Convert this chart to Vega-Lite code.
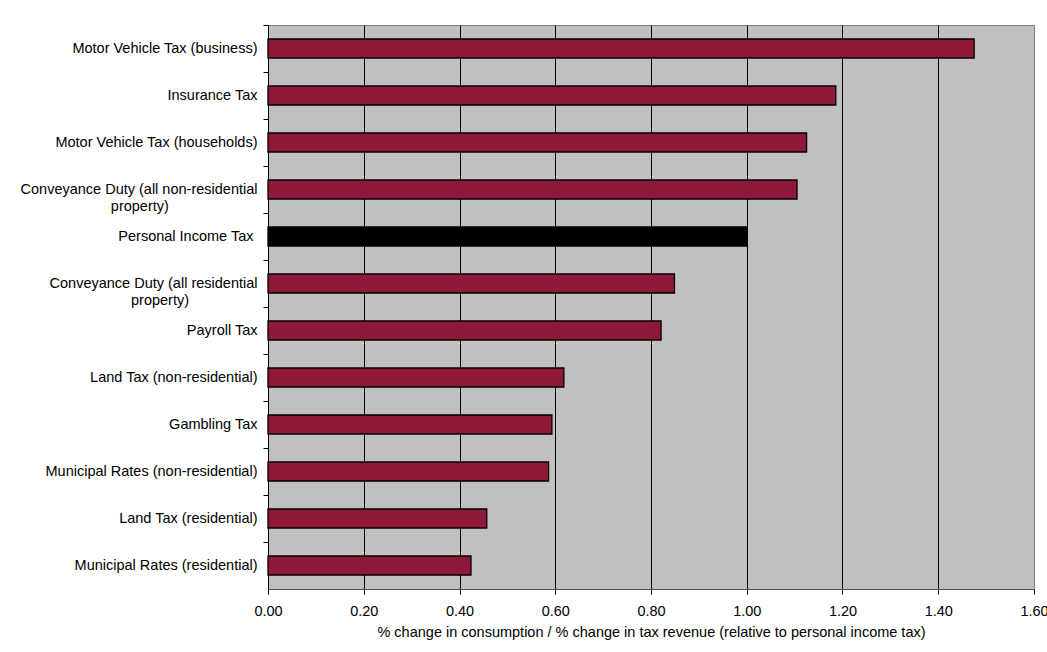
{
  "$schema": "https://vega.github.io/schema/vega-lite/v6.json",
  "width": 766,
  "height": 564,
  "autosize": {"type": "none"},
  "padding": {"left": 268, "top": 25, "right": 13, "bottom": 63},
  "background": "white",
  "config": {
    "font": "Liberation Sans",
    "view": {"fill": "#c0c0c0", "stroke": "#808080", "strokeWidth": 1}
  },
  "data": {
    "values": [
      {"tax": "Motor Vehicle Tax (business)", "value": 1.475, "kind": "tax"},
      {"tax": "Insurance Tax", "value": 1.186, "kind": "tax"},
      {"tax": "Motor Vehicle Tax (households)", "value": 1.125, "kind": "tax"},
      {"tax": "Conveyance Duty (all non-residential|property)", "value": 1.105, "kind": "tax"},
      {"tax": "Personal Income Tax ", "value": 1.0, "kind": "benchmark"},
      {"tax": "Conveyance Duty (all residential|property)", "value": 0.849, "kind": "tax"},
      {"tax": "Payroll Tax", "value": 0.821, "kind": "tax"},
      {"tax": "Land Tax (non-residential)", "value": 0.618, "kind": "tax"},
      {"tax": "Gambling Tax", "value": 0.593, "kind": "tax"},
      {"tax": "Municipal Rates (non-residential)", "value": 0.586, "kind": "tax"},
      {"tax": "Land Tax (residential)", "value": 0.457, "kind": "tax"},
      {"tax": "Municipal Rates (residential)", "value": 0.424, "kind": "tax"}
    ]
  },
  "mark": {"type": "bar", "size": 19, "stroke": "black", "strokeWidth": 1.3},
  "encoding": {
    "y": {
      "field": "tax",
      "type": "nominal",
      "sort": null,
      "scale": {"paddingInner": 0, "paddingOuter": 0},
      "axis": {
        "title": null,
        "bandPosition": 0,
        "tickSize": 5,
        "tickColor": "black",
        "domainColor": "black",
        "labelFontSize": 14.5,
        "labelColor": "black",
        "labelPadding": 6,
        "labelLineHeight": 17,
        "labelLimit": 400,
        "labelExpr": "indexof(datum.value, '|') >= 0 ? [split(datum.value, '|')[0], split(datum.value, '|')[1] + (indexof(datum.value, 'non-res') >= 0 ? '\\u00a0\\u00a0\\u00a0\\u00a0\\u00a0\\u00a0\\u00a0\\u00a0\\u00a0\\u00a0\\u00a0\\u00a0\\u00a0\\u00a0\\u00a0\\u00a0\\u00a0\\u00a0\\u00a0\\u00a0\\u00a0\\u00a0\\u200b' : '\\u00a0\\u00a0\\u00a0\\u00a0\\u00a0\\u00a0\\u00a0\\u00a0\\u00a0\\u00a0\\u00a0\\u00a0\\u00a0\\u00a0\\u00a0\\u00a0\\u00a0\\u200b')] : replace(datum.value, / $/, '\\u00a0\\u200b')"
      }
    },
    "x": {
      "field": "value",
      "type": "quantitative",
      "scale": {"domain": [0, 1.6], "nice": false},
      "axis": {
        "values": [0, 0.2, 0.4, 0.6, 0.8, 1.0, 1.2, 1.4, 1.6],
        "format": ".2f",
        "grid": true,
        "gridColor": {"condition": {"test": "datum.value >= 1.59", "value": "#808080"}, "value": "black"},
        "gridOpacity": 1,
        "tickSize": 5,
        "tickColor": "black",
        "domainColor": "#555555",
        "labelFlush": false,
        "labelFontSize": 14.5,
        "labelColor": "black",
        "labelPadding": 10,
        "title": "% change in consumption / % change in tax revenue (relative to personal income tax)",
        "titleFontSize": 14.5,
        "titleFontWeight": "normal",
        "titleColor": "black",
        "titlePadding": 8
      }
    },
    "color": {
      "field": "kind",
      "type": "nominal",
      "scale": {"domain": ["tax", "benchmark"], "range": ["#8f1838", "#000000"]},
      "legend": null
    }
  }
}
